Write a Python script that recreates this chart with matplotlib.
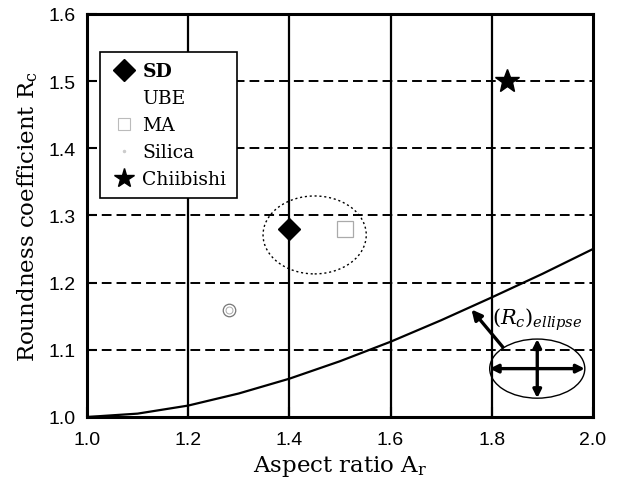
import numpy as np
import matplotlib.pyplot as plt
from matplotlib.lines import Line2D
from matplotlib.patches import Ellipse

plt.rcParams['font.family'] = 'DejaVu Serif'
plt.rcParams['mathtext.fontset'] = 'dejavuserif'

# measured particles
sd_x, sd_y = [1.40], [1.28]
ube_x, ube_y = [1.51], [1.28]
ma_x, ma_y = [1.28], [1.16]
chiibishi_x, chiibishi_y = [1.83], [1.50]

# roundness of an ideal ellipse vs aspect ratio
ell_ar = [1.0, 1.1, 1.2, 1.3, 1.4, 1.5, 1.6, 1.7, 1.8, 1.9, 2.0]
ell_rc = [1.000, 1.005, 1.017, 1.035, 1.057, 1.083, 1.112, 1.144, 1.178, 1.213, 1.250]

x_ticks = [1.0, 1.2, 1.4, 1.6, 1.8, 2.0]
y_ticks = [1.0, 1.1, 1.2, 1.3, 1.4, 1.5, 1.6]

fig = plt.figure(figsize=(6.2, 4.81), dpi=100)
ax = fig.add_axes([0.1403, 0.131, 0.816, 0.838])

ax.set_xlim(1.0, 2.0)
ax.set_ylim(1.0, 1.6)

# grid: solid verticals, dashed horizontals
for xv in x_ticks[1:-1]:
    ax.axvline(xv, color='black', lw=1.6, zorder=1)
for yv in y_ticks[1:-1]:
    ax.axhline(yv, color='black', lw=1.4, ls=(0, (5, 2.6)), zorder=1)

ax.plot(ell_ar, ell_rc, color='black', lw=1.6, zorder=3)

ax.plot(sd_x, sd_y, 'D', color='black', ms=11, zorder=4)
ax.plot(ube_x, ube_y, 's', mfc='none', mec='#aaaaaa', mew=0.9, ms=12, zorder=4)
ax.plot(ma_x, ma_y, 'o', mfc='none', mec='#777777', mew=0.9, ms=9, zorder=4)
ax.plot(ma_x, ma_y, 'o', mfc='none', mec='#aaaaaa', mew=0.7, ms=5, zorder=4)
ax.plot(chiibishi_x, chiibishi_y, '*', color='black', ms=18, zorder=4)

# dotted group outline around SD / UBE
ax.add_patch(Ellipse((1.45, 1.271), 0.204, 0.116, fill=False, ls=(0, (1.5, 2)),
                     lw=1.0, color='black', zorder=3))

# ellipse sketch with its axes
ax.add_patch(Ellipse((1.89, 1.072), 0.188, 0.088, fill=False, lw=1.0,
                     color='black', zorder=3))
ax.annotate('', xy=(1.796, 1.072), xytext=(1.984, 1.072),
            arrowprops=dict(arrowstyle='<|-|>', color='black', lw=2.4,
                            mutation_scale=12, shrinkA=0, shrinkB=0), zorder=5)
ax.annotate('', xy=(1.89, 1.116), xytext=(1.89, 1.028),
            arrowprops=dict(arrowstyle='<|-|>', color='black', lw=2.4,
                            mutation_scale=12, shrinkA=0, shrinkB=0), zorder=5)
ax.annotate('', xy=(1.760, 1.160), xytext=(1.822, 1.104),
            arrowprops=dict(arrowstyle='-|>', color='black', lw=2.4,
                            mutation_scale=15, shrinkA=0, shrinkB=0), zorder=5)
ax.text(1.89, 1.146, r'$(R_c)_{ellipse}$', fontsize=15, ha='center', va='center', zorder=5)

ax.set_xticks(x_ticks)
ax.set_yticks(y_ticks)
ax.set_xticklabels([f'{v:.1f}' for v in x_ticks], family='Liberation Sans', fontsize=14)
ax.set_yticklabels([f'{v:.1f}' for v in y_ticks], family='Liberation Sans', fontsize=14)
ax.tick_params(axis='x', direction='in', length=7, width=1.5, pad=10)
ax.tick_params(axis='y', direction='in', length=7, width=1.5, pad=8)
for sp in ax.spines.values():
    sp.set_linewidth(2.2)

ax.set_xlabel(r'Aspect ratio A$_\mathrm{r}$', fontsize=16.5, labelpad=4)
ax.set_ylabel(r'Roundness coefficient R$_\mathrm{c}$', fontsize=16.5, labelpad=6)

handles = [
    Line2D([], [], ls='none', marker='D', color='black', ms=11),
    Line2D([], [], ls='none', marker='s', mfc='none', mec='none', ms=9),
    Line2D([], [], ls='none', marker='s', mfc='none', mec='#bbbbbb', mew=0.8, ms=9),
    Line2D([], [], ls='none', marker='.', color='#cccccc', ms=3),
    Line2D([], [], ls='none', marker='*', color='black', ms=15),
]
labels = ['SD', 'UBE', 'MA', 'Silica', 'Chiibishi']
leg = ax.legend(handles, labels, loc='upper left', bbox_to_anchor=(0.026, 0.906),
                fontsize=13.5, frameon=True, fancybox=False, framealpha=1,
                edgecolor='black', handletextpad=0.3, borderpad=0.55,
                labelspacing=0.48, handlelength=1.4, borderaxespad=0)
leg.get_frame().set_linewidth(1.2)
leg.set_zorder(6)
leg.get_texts()[0].set_fontweight('bold')

fig.savefig('out.png', dpi=100)
